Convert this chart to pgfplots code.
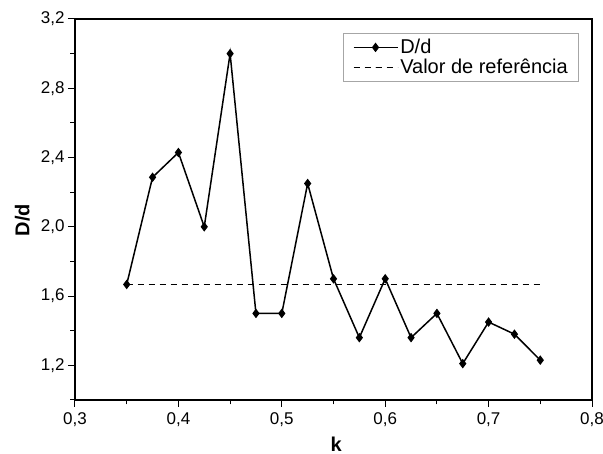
\documentclass[border=0pt]{standalone}
\usepackage{pgfplots}
\pgfplotsset{compat=1.18}
\usepackage{fontspec}
\setmainfont{Liberation Sans}

\begin{document}
\begin{tikzpicture}
\begin{axis}[
  scale only axis,
  width=517pt, height=381pt,
  xmin=0.3, xmax=0.8, ymin=1.0, ymax=3.2,
  xtick={0.3,0.4,0.5,0.6,0.7,0.8},
  minor xtick={0.35,0.45,0.55,0.65,0.75},
  ytick={1.2,1.6,2.0,2.4,2.8,3.2},
  minor ytick={1.0,1.4,1.8,2.2,2.6,3.0},
  tick align=outside, tick pos=left,
  major tick length=7pt, minor tick length=4.5pt,
  every tick/.style={black, line width=1pt},
  axis line style={line width=1.3pt},
  /pgf/number format/assume math mode=true,
  /pgf/number format/.cd, use comma, fixed, fixed zerofill, precision=1,
  /pgfplots/.cd,
  ticklabel style={font=\fontsize{17}{20}\selectfont},
  xticklabel style={yshift=-2pt},
  xlabel={k}, ylabel={D/d},
  every axis x label/.style={at={(axis description cs:0.505,-0.115)}, anchor=center,
    font=\fontsize{20}{24}\selectfont\bfseries},
  every axis y label/.style={at={(axis description cs:-0.102,0.472)}, rotate=90, anchor=center,
    font=\fontsize{20}{24}\selectfont\bfseries},
  legend style={at={(axis description cs:0.975,0.963)}, anchor=north east,
    draw=gray!70, line width=0.6pt, font=\fontsize{20}{24}\selectfont,
    inner xsep=9pt, inner ysep=4pt, row sep=0pt},
  legend cell align=left,
  legend image code/.code={%
    \draw[mark repeat=2, mark phase=2] plot coordinates {(0pt,0pt) (22pt,0pt) (44pt,0pt)};},
]
\addplot[black, line width=1.5pt, mark=diamond*, mark size=4pt,
  mark options={solid, line width=1pt}] coordinates {
  (0.35,1.667) (0.375,2.286) (0.4,2.429) (0.425,2.0) (0.45,3.0)
  (0.475,1.5) (0.5,1.5) (0.525,2.25) (0.55,1.7) (0.575,1.36)
  (0.6,1.7) (0.625,1.36) (0.65,1.5) (0.675,1.21) (0.7,1.45)
  (0.725,1.38) (0.75,1.23)
};
\addlegendentry{D/d}
\addplot[black, line width=1.5pt, dash pattern=on 6pt off 5pt] coordinates {
  (0.35,1.667) (0.75,1.667)
};
\addlegendentry{Valor de referência}
\end{axis}
\pgfresetboundingbox
\path ([shift={(-75pt,-54pt)}]current axis.south west) rectangle ([shift={(11pt,19pt)}]current axis.north east);
\end{tikzpicture}
\end{document}
